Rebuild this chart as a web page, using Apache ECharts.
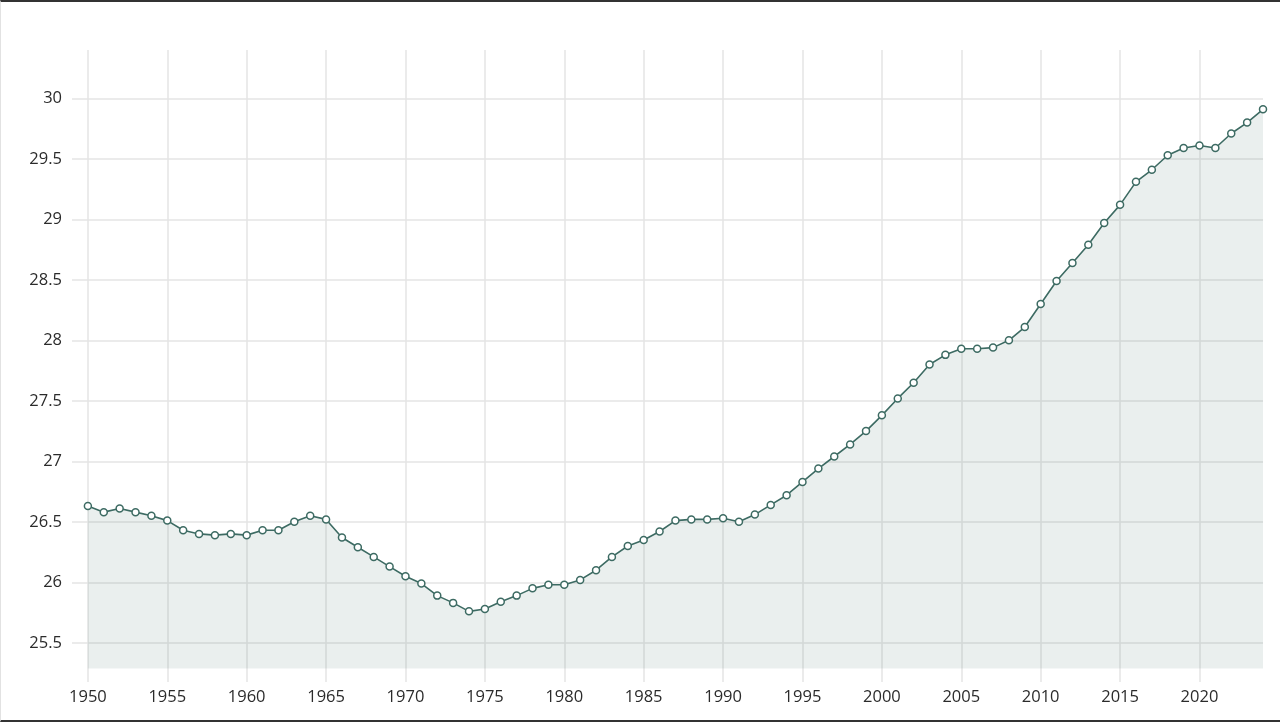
<!DOCTYPE html>
<html>
<head>
<meta charset="utf-8">
<script src="https://cdn.jsdelivr.net/npm/echarts@6/dist/echarts.min.js"></script>
<style>
  html, body { margin: 0; padding: 0; background: #fff; }
  .chart {
    width: 1280px;
    height: 722px;
    box-sizing: border-box;
    border-top: 2px solid #333;
    border-bottom: 2px solid #333;
    border-left: 1px solid #e2e2e2;
  }
</style>
</head>
<body>
<div class="chart"></div>
<script>
'use strict';

const years = [];
for (let y = 1950; y <= 2024; y++) {
  years.push(y);
}

const values = [
  26.63, 26.58, 26.61, 26.58, 26.55, 26.51, 26.43, 26.40, 26.39, 26.40,
  26.39, 26.43, 26.43, 26.50, 26.55, 26.52, 26.37, 26.29, 26.21, 26.13,
  26.05, 25.99, 25.89, 25.83, 25.76, 25.78, 25.84, 25.89, 25.95, 25.98,
  25.98, 26.02, 26.10, 26.21, 26.30, 26.35, 26.42, 26.51, 26.52, 26.52,
  26.53, 26.50, 26.56, 26.64, 26.72, 26.83, 26.94, 27.04, 27.14, 27.25,
  27.38, 27.52, 27.65, 27.80, 27.88, 27.93, 27.93, 27.94, 28.00, 28.11,
  28.30, 28.49, 28.64, 28.79, 28.97, 29.12, 29.31, 29.41, 29.53, 29.59,
  29.61, 29.59, 29.71, 29.80, 29.91,
];

const xTicks = [1950, 1955, 1960, 1965, 1970, 1975, 1980, 1985, 1990, 1995, 2000, 2005, 2010, 2015, 2020];
const yTicks = [25.5, 26, 26.5, 27, 27.5, 28, 28.5, 29, 29.5, 30];

const myChart = echarts.init(document.querySelector('.chart'));

const gridLine = { show: true, lineStyle: { color: '#e4e4e4', width: 1.5 } };
const labelStyle = { color: '#2b2b2b', fontSize: 16.5, fontFamily: 'Open Sans, sans-serif' };

const option = {
  animation: false,
  grid: {
    left: 71,
    right: 17,
    top: 48,
    bottom: 38,
  },
  xAxis: {
    type: 'value',
    min: 1949,
    max: 2024,
    axisLine: { show: false },
    axisTick: { show: false, customValues: xTicks },
    axisLabel: {
      ...labelStyle,
      margin: 7,
      customValues: xTicks,
      formatter: (v) => String(v),
    },
    splitLine: gridLine,
  },
  yAxis: {
    type: 'value',
    min: 25.176,
    max: 30.4,
    axisLine: { show: false },
    axisTick: { show: false, customValues: yTicks },
    axisLabel: { ...labelStyle, margin: 10, customValues: yTicks },
    splitLine: gridLine,
  },
  series: [{
    type: 'line',
    data: years.map((y, i) => [y, values[i]]),
    symbol: 'circle',
    symbolSize: 7,
    itemStyle: { color: '#fff', borderColor: '#3d6b63', borderWidth: 1.5 },
    lineStyle: { color: '#3d6b63', width: 1.6 },
    areaStyle: { color: 'rgba(61,107,99,0.15)', origin: 25.287 },
  }],
};

myChart.setOption(option);
</script>
</body>
</html>
